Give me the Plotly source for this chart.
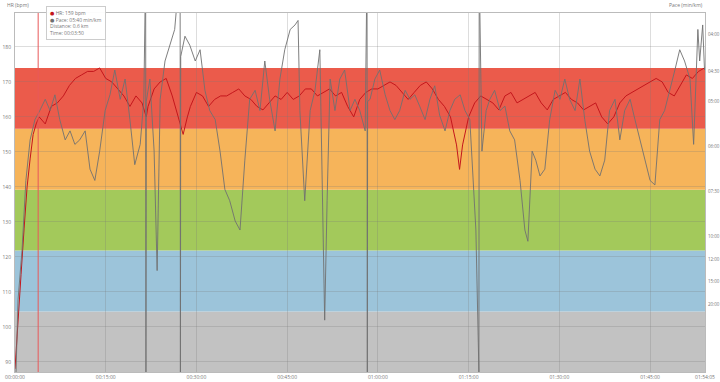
import plotly.graph_objects as go

# ---------------- data ----------------
hr_time_min = [0, 0.5, 1, 1.5, 2, 2.5, 3, 3.5, 4, 5, 6, 7, 8, 9, 10, 11, 12, 13, 14, 15, 16, 17, 18, 19, 20, 21,
               21.7, 22, 23, 24, 25, 26, 27, 27.8, 28.5, 29, 30, 31, 32, 33, 34, 35, 36, 37, 38, 39, 40, 41, 42,
               43, 44, 45, 46, 47, 48, 49, 50, 51, 52, 53, 54, 55, 56, 57, 58, 59, 60, 61, 62, 63, 64, 65, 66,
               67, 68, 69, 70, 71, 72, 73, 73.5, 74, 75, 76, 77, 78, 79, 80, 81, 82, 83, 84, 85, 86, 87, 88, 89,
               90, 91, 92, 93, 94, 95, 96, 97, 98, 99, 100, 101, 102, 103, 104, 105, 106, 107, 108, 109, 110,
               111, 112, 113, 114]
hr_bpm = [88, 100, 115, 128, 140, 148, 155, 158, 160, 158, 163, 164, 166, 169, 171, 172, 173, 173, 174, 171, 170,
          168, 166, 163, 166, 164, 160, 163, 168, 170, 171, 166, 160, 155, 160, 163, 167, 166, 163, 165, 166, 166,
          167, 168, 166, 165, 163, 162, 164, 166, 165, 167, 165, 166, 168, 168, 166, 167, 168, 166, 167, 163, 160,
          165, 167, 168, 168, 169, 170, 169, 167, 165, 167, 169, 170, 168, 165, 163, 160, 152, 145, 152, 160, 164,
          166, 165, 164, 162, 166, 167, 164, 165, 166, 167, 164, 162, 165, 166, 167, 165, 164, 162, 163, 164, 160,
          158, 160, 164, 166, 167, 168, 169, 170, 171, 170, 167, 166, 169, 172, 171, 173, 174]

speed_time_min = [0.17, 0.5, 1.16, 1.8, 2.5, 3.3, 4.1, 5.0, 5.8, 6.6, 7.4, 8.3, 9.1, 9.9, 10.7, 11.6, 12.4, 13.2,
                  14.0, 14.9, 15.7, 16.5, 17.4, 18.2, 19.0, 19.8, 20.7, 21.3, 21.6, 21.65, 21.7, 22.3, 23.0, 23.5,
                  24.0, 24.8, 25.6, 26.4, 27.3, 27.35, 27.4, 28.1, 28.9, 29.8, 30.6, 31.4, 32.2, 33.1, 33.9, 34.7,
                  35.5, 36.4, 37.2, 38.0, 38.8, 39.7, 40.5, 41.3, 42.1, 43.0, 43.8, 44.6, 45.5, 46.3, 46.8, 47.1,
                  47.6, 47.9, 48.8, 49.6, 50.4, 50.9, 51.2, 51.6, 52.1, 52.9, 53.7, 54.5, 55.4, 56.2, 57.0, 57.9,
                  58.2, 58.25, 58.3, 58.7, 59.5, 60.3, 61.2, 62.0, 62.8, 63.6, 64.5, 65.3, 66.1, 66.9, 67.8, 68.6,
                  69.4, 70.2, 71.1, 71.9, 72.7, 73.6, 74.4, 75.2, 76.2, 76.7, 76.75, 77.2, 77.9, 78.5, 79.3, 80.2,
                  81.0, 81.8, 82.6, 83.5, 84.3, 84.8, 85.5, 86.1, 86.8, 87.6, 88.4, 89.3, 90.1, 90.9, 91.7, 92.6,
                  93.4, 94.2, 95.0, 95.9, 96.7, 97.5, 98.3, 99.2, 100.0, 100.8, 101.7, 102.5, 103.3, 104.1, 105.0,
                  105.8, 106.6, 107.4, 108.3, 109.1, 109.9, 110.7, 111.6, 112.2, 112.9, 113.2, 113.7, 114.0]
speed_kmh = [0.0, 3.2, 5.4, 8.5, 10.3, 11.2, 11.6, 12.1, 11.6, 12.3, 11.2, 10.3, 10.7, 10.1, 10.3, 10.7, 9.0, 8.5,
             9.8, 11.6, 12.3, 13.4, 12.1, 13.0, 11.2, 9.2, 10.1, 12.1, 18.0, 0.0, 12.0, 13.0, 9.8, 4.5,
             12.1, 13.8, 14.5, 15.2, 18.0, 0.0, 14.0, 14.9, 14.5, 13.8, 14.3, 12.5, 11.6, 11.2, 9.8, 8.1,
             7.6, 6.7, 6.3, 9.4, 12.1, 12.5, 11.6, 13.8, 12.1, 10.7, 13.0, 14.3, 15.2, 15.4, 15.6, 11.6,
             9.4, 7.6, 11.6, 12.5, 14.3, 7.6, 2.3, 7.6, 13.0, 11.6, 13.0, 13.4, 11.6, 12.1, 11.6, 10.7,
             18.0, 0.0, 12.0, 12.1, 13.0, 13.4, 12.3, 11.6, 11.2, 11.6, 12.5, 12.1, 12.3, 11.8, 11.2, 12.1,
             12.7, 11.4, 10.7, 11.6, 12.1, 12.3, 11.6, 11.2, 6.3, 0.0, 18.0, 9.8, 11.6, 12.1, 12.5, 11.6,
             11.8, 10.7, 10.3, 8.5, 6.3, 5.8, 9.8, 9.4, 8.7, 9.0, 11.2, 12.5, 12.1, 13.0, 12.1, 11.6,
             13.0, 11.2, 9.8, 9.0, 8.7, 9.4, 11.6, 12.1, 10.3, 11.6, 12.1, 11.2, 10.3, 9.4, 8.5,
             8.3, 11.2, 11.6, 12.5, 13.4, 14.3, 13.8, 13.0, 10.1, 15.2, 13.8, 15.4, 13.4]

# HR zones (bpm): lower, upper, colour
zone_bounds = [87.1, 104.4, 121.8, 139.2, 156.6, 174.0]
zone_colors = ["#c2c2c2", "#9cc4da", "#a3c95b", "#f6b45a", "#eb5b4b"]

hr_ticks = [90, 100, 110, 120, 130, 140, 150, 160, 170, 180]
pace_tick_labels = ["04:00", "04:30", "05:00", "06:00", "07:30", "10:00", "12:00", "15:00", "20:00"]
total_min = 114.08
time_tick_min = [0, 15, 30, 45, 60, 75, 90, 105, total_min]

cursor_min = 3.83
tooltip_lines = ["HR: 159 bpm", "Pace: 05:40 min/km", "Distance: 0.6 km", "Time: 00:03:50"]


def pace_to_speed(p):
    m, s = p.split(":")
    return 60.0 / (int(m) + int(s) / 60.0)


def fmt_time(mins):
    secs = int(round(mins * 60))
    return "%02d:%02d:%02d" % (secs // 3600, (secs % 3600) // 60, secs % 60)


pace_tick_vals = [pace_to_speed(p) for p in pace_tick_labels]

fig = go.Figure()
fig.add_trace(go.Scatter(x=speed_time_min, y=speed_kmh, yaxis="y2", mode="lines",
                         line=dict(color="#707070", width=0.9), name="Pace", hoverinfo="skip"))
fig.add_trace(go.Scatter(x=hr_time_min, y=hr_bpm, mode="lines",
                         line=dict(color="#c4161c", width=1), name="HR", hoverinfo="skip"))

for i, c in enumerate(zone_colors):
    fig.add_shape(type="rect", xref="paper", yref="y", x0=0, x1=1,
                  y0=zone_bounds[i], y1=zone_bounds[i + 1], fillcolor=c, line_width=0, layer="below")

fig.add_shape(type="line", xref="x", yref="paper", x0=cursor_min, x1=cursor_min, y0=0, y1=1,
              line=dict(color="#e8585a", width=1), layer="above")

tick_font = dict(family="Open Sans, DejaVu Sans, sans-serif", size=5, color="#777")
right_font = dict(family="Open Sans, DejaVu Sans, sans-serif", size=4.5, color="#777")

fig.update_layout(
    width=720, height=382,
    margin=dict(l=15, r=15, t=13, b=10, autoexpand=False),
    paper_bgcolor="white", plot_bgcolor="white",
    showlegend=False,
    xaxis=dict(range=[0, total_min], tickvals=time_tick_min, ticktext=[fmt_time(t) for t in time_tick_min],
               tickfont=tick_font, showgrid=True, gridcolor="rgba(120,120,120,0.25)", gridwidth=1,
               zeroline=False, showline=True, linecolor="#bbb", mirror=True, ticks="", automargin=False),
    yaxis=dict(range=[zone_bounds[0], 189.7], tickvals=hr_ticks, tickfont=tick_font, showgrid=True,
               gridcolor="rgba(120,120,120,0.25)", zeroline=False, showline=True, linecolor="#bbb",
               ticks="", ticklabelstandoff=2, automargin=False),
    yaxis2=dict(range=[0, 15.93], overlaying="y", side="right", tickvals=pace_tick_vals,
                ticktext=pace_tick_labels, tickfont=right_font, showgrid=False, zeroline=False,
                showline=True, linecolor="#bbb", ticks="", ticklabelstandoff=1, automargin=False),
)

fig.add_annotation(xref="paper", yref="paper", x=0, y=1, yshift=3, xshift=-10, xanchor="left", yanchor="bottom",
                   text="HR (bpm)", showarrow=False, font=tick_font)
fig.add_annotation(xref="paper", yref="paper", x=1, y=1, yshift=3, xanchor="right", yanchor="bottom",
                   text="Pace (min/km)", showarrow=False, font=tick_font)

tip_text = ("<span style='color:#c4161c'>●</span> " + tooltip_lines[0] + "<br>" +
            "<span style='color:#6e6e6e'>●</span> " + tooltip_lines[1] + "<br>" +
            tooltip_lines[2] + "<br>" + tooltip_lines[3])
fig.add_annotation(xref="paper", yref="paper", x=0.045, y=1.02, xanchor="left", yanchor="top",
                   text=tip_text, showarrow=False, align="left", font=tick_font,
                   bgcolor="rgba(255,255,255,0.95)", bordercolor="#ccc", borderwidth=1, borderpad=3)

fig.write_html("out.html", config={"displayModeBar": False, "staticPlot": True},
               post_script="document.body.style.margin='0';document.body.style.padding='0';")
